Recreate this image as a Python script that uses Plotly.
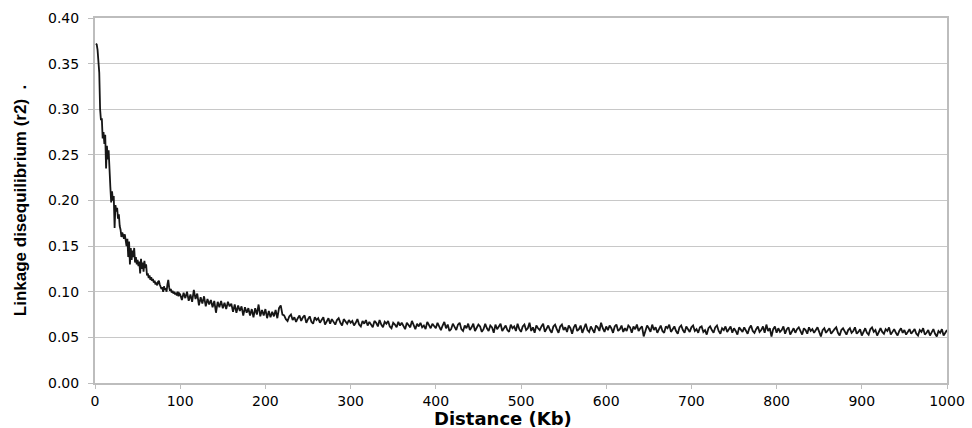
import plotly.graph_objects as go

# Distance (Kb): 1 Kb steps to 100, then 2 Kb steps to 1000
distance_kb = list(range(1, 101)) + list(range(102, 1001, 2))

r2_first100 = [
    0.372, 0.371, 0.365, 0.355, 0.340, 0.300, 0.288, 0.290, 0.268, 0.275,
    0.262, 0.272, 0.235, 0.260, 0.245, 0.255, 0.222, 0.215, 0.198, 0.210,
    0.200, 0.205, 0.170, 0.195, 0.188, 0.192, 0.180, 0.185, 0.172, 0.168,
    0.160, 0.165, 0.162, 0.158, 0.163, 0.155, 0.150, 0.158, 0.138, 0.155,
    0.130, 0.148, 0.135, 0.145, 0.138, 0.148, 0.132, 0.138, 0.130, 0.135,
    0.128, 0.133, 0.120, 0.136, 0.125, 0.132, 0.122, 0.134, 0.126, 0.130,
    0.118, 0.120, 0.115, 0.118, 0.113, 0.116, 0.112, 0.114, 0.110, 0.112,
    0.108, 0.110, 0.107, 0.111, 0.112, 0.108, 0.106, 0.103, 0.105, 0.100,
    0.106, 0.102, 0.104, 0.100, 0.108, 0.113, 0.105, 0.101, 0.103, 0.099,
    0.101, 0.098, 0.100, 0.097, 0.099, 0.096, 0.100, 0.095, 0.098, 0.097,
]

r2_rest = [
    0.091, 0.099, 0.093, 0.100, 0.090, 0.097, 0.089, 0.102, 0.092, 0.098,
    0.085, 0.094, 0.087, 0.095, 0.084, 0.092, 0.086, 0.091, 0.083, 0.090,
    0.077, 0.089, 0.083, 0.090, 0.082, 0.088, 0.081, 0.089, 0.084, 0.087,
    0.078, 0.086, 0.077, 0.085, 0.079, 0.084, 0.074, 0.083, 0.077, 0.082,
    0.074, 0.081, 0.072, 0.082, 0.075, 0.086, 0.073, 0.080, 0.074, 0.081,
    0.071, 0.079, 0.072, 0.078, 0.073, 0.080, 0.071, 0.082, 0.085, 0.075,
    0.074, 0.070, 0.068, 0.073, 0.075, 0.069, 0.072, 0.067, 0.071, 0.074,
    0.068, 0.072, 0.074, 0.066, 0.070, 0.073, 0.067, 0.065, 0.072, 0.069,
    0.071, 0.066, 0.069, 0.072, 0.064, 0.068, 0.071, 0.065, 0.070, 0.067,
    0.064, 0.069, 0.071, 0.066, 0.063, 0.070, 0.067, 0.065, 0.069, 0.066,
    0.068, 0.063, 0.066, 0.070, 0.064, 0.062, 0.068, 0.065, 0.069, 0.063,
    0.067, 0.064, 0.061, 0.068, 0.066, 0.062, 0.069, 0.064, 0.061, 0.067,
    0.065, 0.068, 0.062, 0.060, 0.066, 0.064, 0.061, 0.067, 0.063, 0.066,
    0.062, 0.059, 0.066, 0.064, 0.061, 0.068, 0.063, 0.059, 0.065, 0.062,
    0.066, 0.061, 0.063, 0.059, 0.067, 0.064, 0.060, 0.065, 0.062, 0.060,
    0.066, 0.061, 0.058, 0.063, 0.067, 0.060, 0.064, 0.057, 0.059, 0.065,
    0.062, 0.058, 0.064, 0.066, 0.059, 0.057, 0.063, 0.060, 0.065, 0.058,
    0.061, 0.065, 0.057, 0.060, 0.064, 0.062, 0.056, 0.059, 0.065, 0.060,
    0.057, 0.063, 0.061, 0.055, 0.064, 0.059, 0.062, 0.065, 0.057, 0.060,
    0.063, 0.058, 0.056, 0.064, 0.060, 0.062, 0.057, 0.065, 0.059, 0.056,
    0.062, 0.064, 0.058, 0.060, 0.066, 0.057, 0.061, 0.055, 0.063, 0.060,
    0.058, 0.062, 0.065, 0.056, 0.060, 0.063, 0.058, 0.055, 0.062, 0.064,
    0.059, 0.055, 0.062, 0.064, 0.058, 0.061, 0.056, 0.063, 0.060, 0.054,
    0.061, 0.064, 0.057, 0.059, 0.063, 0.055, 0.060, 0.065, 0.058, 0.056,
    0.062, 0.059, 0.055, 0.063, 0.061, 0.057, 0.066, 0.060, 0.056, 0.062,
    0.058, 0.063, 0.060, 0.055, 0.062, 0.064, 0.057, 0.059, 0.063, 0.056,
    0.060, 0.057, 0.063, 0.061, 0.055, 0.062, 0.059, 0.064, 0.057, 0.060,
    0.062, 0.051, 0.058, 0.063, 0.060, 0.056, 0.064, 0.058, 0.061, 0.055,
    0.059, 0.063, 0.057, 0.055, 0.062, 0.060, 0.064, 0.056, 0.059, 0.062,
    0.057, 0.054, 0.061, 0.063, 0.058, 0.055, 0.062, 0.059, 0.056, 0.061,
    0.063, 0.057, 0.059, 0.055, 0.061, 0.062, 0.056, 0.058, 0.053, 0.060,
    0.062, 0.058, 0.055, 0.061, 0.063, 0.057, 0.054, 0.060, 0.058, 0.062,
    0.056, 0.059, 0.062, 0.055, 0.060, 0.057, 0.053, 0.061, 0.059, 0.056,
    0.061, 0.058, 0.054, 0.060, 0.063, 0.057, 0.055, 0.059, 0.062, 0.056,
    0.058, 0.062, 0.055, 0.064, 0.057, 0.060, 0.051, 0.059, 0.062, 0.055,
    0.060, 0.056, 0.058, 0.062, 0.054, 0.059, 0.061, 0.053, 0.057, 0.060,
    0.055, 0.059, 0.061, 0.056, 0.053, 0.060, 0.058, 0.054, 0.061, 0.057,
    0.059, 0.055, 0.058, 0.061, 0.056, 0.051, 0.058, 0.060, 0.055, 0.057,
    0.060, 0.054, 0.057, 0.059, 0.061, 0.055, 0.052, 0.058, 0.060, 0.056,
    0.053, 0.058, 0.060, 0.055, 0.057, 0.061, 0.054, 0.056, 0.059, 0.052,
    0.057, 0.060, 0.055, 0.053, 0.059, 0.061, 0.056, 0.058, 0.052, 0.057,
    0.060, 0.056, 0.054, 0.059, 0.057, 0.061, 0.053, 0.056, 0.059, 0.055,
    0.052, 0.057, 0.060, 0.055, 0.058, 0.053, 0.056, 0.059, 0.054, 0.057,
    0.059, 0.054, 0.052, 0.058, 0.056, 0.060, 0.053, 0.055, 0.058, 0.052,
    0.056, 0.059, 0.054, 0.051, 0.057, 0.055, 0.059, 0.052, 0.055, 0.058,
]

r2_values = r2_first100 + r2_rest

x_ticks = [0, 100, 200, 300, 400, 500, 600, 700, 800, 900, 1000]
y_ticks = [0.00, 0.05, 0.10, 0.15, 0.20, 0.25, 0.30, 0.35, 0.40]
y_tick_labels = ["0.00", "0.05", "0.10", "0.15", "0.20", "0.25", "0.30", "0.35", "0.40"]
x_title = "Distance (Kb)"
y_title = "Linkage disequilibrium (r2)  ."

fig = go.Figure()
fig.add_trace(go.Scatter(
    x=distance_kb, y=r2_values, mode="lines",
    line=dict(color="#161616", width=1.8),
    showlegend=False, hoverinfo="x+y",
))

axis_font = dict(family="DejaVu Sans", size=14, color="#000000")
fig.update_layout(
    width=972, height=428,
    margin=dict(l=95, r=25, t=18, b=45),
    paper_bgcolor="white", plot_bgcolor="white",
    font=axis_font,
    xaxis=dict(
        range=[0, 1000], tickvals=x_ticks, ticktext=[str(v) for v in x_ticks],
        showgrid=False, zeroline=False,
        showline=True, linecolor="#bdbdbd", linewidth=2, mirror=True,
        ticks="outside", ticklen=4, tickcolor="#bdbdbd",
        tickfont=axis_font, automargin=False,
    ),
    yaxis=dict(
        range=[0, 0.40], tickvals=y_ticks, ticktext=y_tick_labels,
        showgrid=True, gridcolor="#c8c8c8", gridwidth=1, zeroline=False,
        showline=True, linecolor="#bdbdbd", linewidth=2, mirror=True,
        ticks="outside", ticklen=5, tickcolor="#bdbdbd",
        tickfont=axis_font, ticklabelstandoff=6, automargin=False,
        title=dict(text="<b>" + y_title + "</b>", standoff=17,
                   font=dict(family="Liberation Sans", size=17, color="#000000")),
    ),
    annotations=[dict(
        text="<b>" + x_title + "</b>", xref="paper", yref="paper",
        x=0.479, y=-0.096, xanchor="center", yanchor="middle", showarrow=False,
        font=dict(family="DejaVu Sans", size=18, color="#000000"),
    )],
)

fig.write_html(
    "out.html",
    config={"displayModeBar": False},
    post_script="document.body.style.margin='0';document.body.style.overflow='hidden';",
)
